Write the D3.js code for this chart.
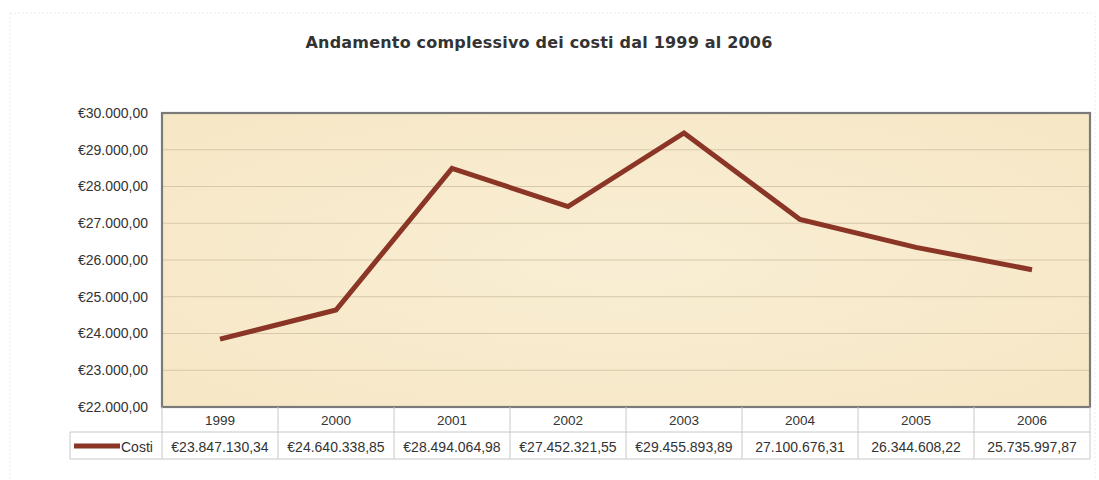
<!DOCTYPE html>
<html><head><meta charset="utf-8">
<script src="https://cdn.jsdelivr.net/npm/d3@7"></script>
<style>body{margin:0;background:#fff}svg{display:block}</style>
</head><body>
<script>
const years = ["1999","2000","2001","2002","2003","2004","2005","2006"];
const costi = [23847.13034, 24640.33885, 28494.06498, 27452.32155, 29455.89389, 27100.67631, 26344.60822, 25735.99787];
const tableLabels = ["€23.847.130,34","€24.640.338,85","€28.494.064,98","€27.452.321,55","€29.455.893,89","27.100.676,31","26.344.608,22","25.735.997,87"];
const yTicks = [22000,23000,24000,25000,26000,27000,28000,29000,30000];
const seriesName = "Costi";
const title = "Andamento complessivo dei costi dal 1999 al 2006";

const W = 1099, H = 480;
const m = {left:162, right:1090, top:113, bottom:407};
const svg = d3.select("body").append("svg").attr("width",W).attr("height",H);

// outer faint border
svg.append("rect").attr("x",10).attr("y",13).attr("width",1085).attr("height",470)
  .attr("fill","none").attr("stroke","#ececec").attr("stroke-dasharray","2,2");

svg.append("text").attr("x",539).attr("y",48).attr("text-anchor","middle")
  .attr("font-family","DejaVu Sans").attr("font-weight","bold").attr("font-size",16)
  .attr("fill","#333").attr("letter-spacing",0.2).text(title);

const x = d3.scaleBand().domain(years).range([m.left,m.right]);
const y = d3.scaleLinear().domain([22000,30000]).range([m.bottom,m.top]);

// plot background
const defs = svg.append("defs");
const rg = defs.append("radialGradient").attr("id","bg").attr("cx","50%").attr("cy","50%").attr("r","75%");
rg.append("stop").attr("offset","0%").attr("stop-color","#f9eed4");
rg.append("stop").attr("offset","100%").attr("stop-color","#f6e6c4");
svg.append("rect").attr("x",m.left).attr("y",m.top).attr("width",m.right-m.left).attr("height",m.bottom-m.top)
  .attr("fill","url(#bg)");

// gridlines
svg.append("g").selectAll("line").data(yTicks.slice(1,-1)).join("line")
  .attr("x1",m.left).attr("x2",m.right).attr("y1",d=>y(d)).attr("y2",d=>y(d))
  .attr("stroke","#d6c8a8").attr("stroke-width",1);

// y axis
const fmt = d => "€" + d3.format(",.2f")(d).replace(/,/g,"#").replace(/\./g,",").replace(/#/g,".");
const yAxis = svg.append("g").attr("transform",`translate(${m.left},0)`)
  .call(d3.axisLeft(y).tickValues(yTicks).tickFormat(fmt).tickSize(0).tickPadding(14));
yAxis.select(".domain").remove();
yAxis.selectAll("text").attr("font-family","Liberation Sans").attr("font-size",14).attr("fill","#333");

// plot border
svg.append("rect").attr("x",m.left).attr("y",m.top).attr("width",m.right-m.left).attr("height",m.bottom-m.top)
  .attr("fill","none").attr("stroke","#7a7a7a").attr("stroke-width",2.2);

// line
const line = d3.line().x((d,i)=>x(years[i])+x.bandwidth()/2).y(d=>y(d));
svg.append("path").datum(costi).attr("d",line).attr("fill","none")
  .attr("stroke","#8a3526").attr("stroke-width",5).attr("stroke-linejoin","miter");

// data table
const rowY1 = m.bottom, rowY2 = 432, rowY3 = 459, legL = 70;
const tg = svg.append("g").attr("stroke","#c8c8c8").attr("stroke-width",1);
tg.append("line").attr("x1",legL).attr("x2",m.right).attr("y1",rowY2).attr("y2",rowY2);
tg.append("line").attr("x1",legL).attr("x2",m.right).attr("y1",rowY3).attr("y2",rowY3);
tg.append("line").attr("x1",legL).attr("x2",legL).attr("y1",rowY2).attr("y2",rowY3);
tg.selectAll("line.v").data(years).join("line").attr("class","v")
  .attr("x1",d=>x(d)+x.bandwidth()).attr("x2",d=>x(d)+x.bandwidth()).attr("y1",rowY1).attr("y2",rowY3);
tg.append("line").attr("x1",m.left).attr("x2",m.left).attr("y1",rowY1).attr("y2",rowY3);

const tx = svg.append("g").attr("font-family","Liberation Sans").attr("fill","#333").attr("text-anchor","middle");
tx.selectAll("text.yr").data(years).join("text").attr("class","yr")
  .attr("x",d=>x(d)+x.bandwidth()/2).attr("y",425).attr("font-size",13.5).text(d=>d);
tx.selectAll("text.val").data(tableLabels).join("text").attr("class","val")
  .attr("x",(d,i)=>x(years[i])+x.bandwidth()/2).attr("y",452).attr("font-size",14).text(d=>d);

// legend key
svg.append("line").attr("x1",74).attr("x2",120).attr("y1",446).attr("y2",446)
  .attr("stroke","#8a3526").attr("stroke-width",5);
svg.append("text").attr("x",121).attr("y",452).attr("font-family","Liberation Sans").attr("font-size",14)
  .attr("fill","#333").text(seriesName);
</script>
</body></html>
